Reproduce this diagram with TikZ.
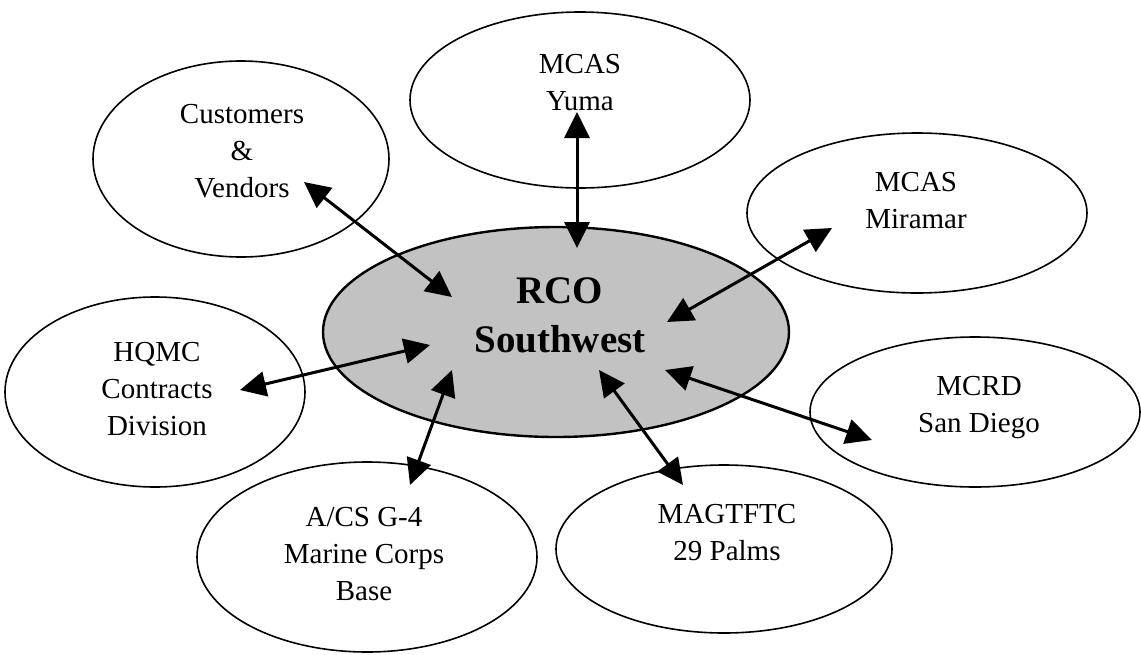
\documentclass[tikz,border=0pt]{standalone}
\usepackage{fontspec}
\setmainfont{Liberation Serif}
\usepackage{tikz}
\usetikzlibrary{shapes.geometric,arrows.meta}

\begin{document}
\begin{tikzpicture}[x=1pt,y=-1pt,
    site/.style={ellipse, draw, line width=1.6pt, inner sep=0pt},
    lbl/.style={align=center, anchor=base, font=\fontsize{29}{37}\selectfont},
    link/.style={{Triangle[length=26pt,width=25pt]}-{Triangle[length=26pt,width=25pt]}, line width=3pt}]
        \useasboundingbox (0,0) rectangle (1141,654);

        % 中心
        \node[site, fill=black!24, line width=2.4pt, minimum width=466pt, minimum height=210pt] (rco) at (556,332) {};
        \node[lbl, font=\fontsize{39}{49}\selectfont\bfseries] (rco-t) at (560,352) {RCO\\Southwest};

        % 周围的椭圆
        \node[site, minimum width=296pt, minimum height=196pt] (cust) at (241,159) {};
        \node[lbl] (cust-t) at (242,197) {Customers\\\&\\Vendors};
        \node[site, minimum width=340pt, minimum height=176pt] (yuma) at (580,100) {};
        \node[lbl] (yuma-t) at (580,110) {MCAS\\Yuma};
        \node[site, minimum width=340pt, minimum height=160pt] (mira) at (917,213) {};
        \node[lbl] (mira-t) at (916,228) {MCAS\\Miramar};
        \node[site, minimum width=300pt, minimum height=190pt] (hqmc) at (155,392) {};
        \node[lbl] (hqmc-t) at (157,435) {HQMC\\Contracts\\Division};
        \node[site, minimum width=340pt, minimum height=190pt] (acs) at (367,557) {};
        \node[lbl] (acs-t) at (364,600) {A/CS G-4\\Marine Corps\\Base};
        \node[site, minimum width=336pt, minimum height=168pt] (mag) at (724,549) {};
        \node[lbl] (mag-t) at (727,560) {MAGTFTC\\29 Palms};
        \node[site, minimum width=330pt, minimum height=150pt] (mcrd) at (975,412) {};
        \node[lbl] (mcrd-t) at (979,432) {MCRD\\San Diego};

        % 箭头的端点
        \coordinate (cust-a) at (304,182);  \coordinate (rco-cust) at (452,297);
        \coordinate (yuma-a) at (577,112);  \coordinate (rco-yuma) at (577,248);
        \coordinate (mira-a) at (832,228);  \coordinate (rco-mira) at (667,322);
        \coordinate (hqmc-a) at (240,390);  \coordinate (rco-hqmc) at (430,345);
        \coordinate (acs-a) at (410,485);   \coordinate (rco-acs) at (452,370);
        \coordinate (mag-a) at (683,485);   \coordinate (rco-mag) at (599,370);
        \coordinate (mcrd-a) at (872,440);  \coordinate (rco-mcrd) at (665,370);

        % 箭头
        \foreach \s in {cust,yuma,mira,hqmc,acs,mag,mcrd}
            \draw[link] (\s-a) -- (rco-\s);
    \end{tikzpicture}
\end{document}
